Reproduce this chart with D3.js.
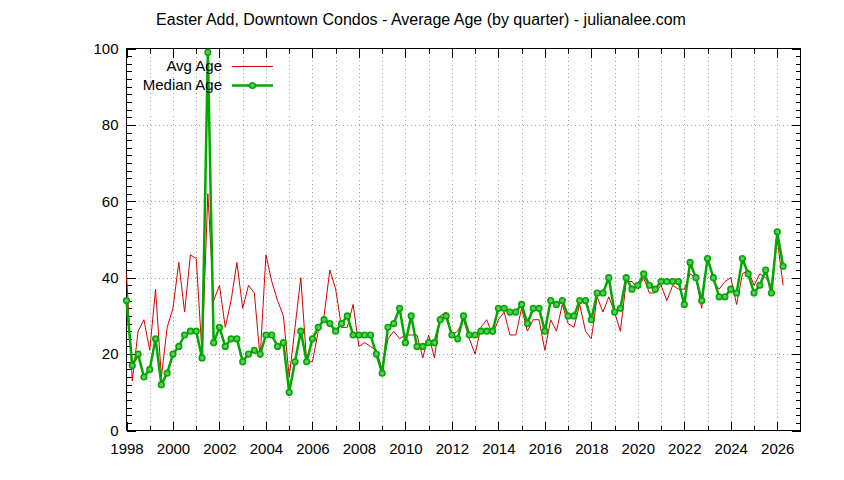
<!DOCTYPE html>
<html>
<head>
<meta charset="utf-8">
<script src="https://cdn.jsdelivr.net/npm/d3@7"></script>
<style>
  html, body { margin: 0; padding: 0; background: #fff; }
  svg { display: block; font-family: "Liberation Sans", Arial, sans-serif; }
</style>
</head>
<body>
<svg id="chart" width="844" height="480"></svg>
<script>
// ---- data (quarterly, starting 1998 Q1) ----
const startYear = 1998;
const avgAge = [41,13,26,29,21,37,14,27,32,44,31,46,45,20,62,34,38,27,34,44,
  32,38,36,19,46,39,34,30,14,27,40,18,18,26,30,42,37,27,27,33,
  22,23,22,21,16,24,26,24,25,25,25,19,25,19,30,31,25,26,29,24,
  20,27,29,25,29,31,25,25,32,26,29,29,21,29,26,33,28,27,33,26,
  24,35,31,35,31,26,39,39,37,40,36,36,38,34,38,37,37,41,40,32,
  46,39,37,39,40,33,41,42,38,41,40,38,50,38];
const medianAge = [34,17,20,14,16,24,12,15,20,22,25,26,26,19,99,23,27,22,24,24,
  18,20,21,20,25,25,22,23,10,18,26,18,24,27,29,28,26,28,30,25,
  25,25,25,20,15,27,28,32,23,30,22,22,23,23,29,30,25,24,30,25,
  25,26,26,26,32,32,31,31,33,28,32,32,26,34,33,34,30,30,34,34,
  29,36,36,40,31,32,40,37,38,41,38,37,39,39,39,39,33,44,40,34,
  45,40,35,35,37,36,45,41,36,38,42,36,52,43];
const xTickLabels = ["1998","2000","2002","2004","2006","2008","2010","2012",
  "2014","2016","2018","2020","2022","2024","2026"];
const yTickValues = [0, 20, 40, 60, 80, 100];
const seriesNames = ["Avg Age", "Median Age"];
const titleText = "Easter Add, Downtown Condos - Average Age (by quarter) - julianalee.com";

// ---- layout ----
const L = 126.5, R = 800.5, T = 48.5, B = 430.5;
const svg = d3.select("#chart");
const quarterX = avgAge.map((_, i) => startYear + i / 4);

const x = d3.scaleLinear().domain([1998, 2027]).range([L, R]);
const y = d3.scaleLinear().domain([0, 100]).range([B, T]);

const allYears = d3.range(1998, 2028);
const labeledYears = xTickLabels.map(Number);
const minorYears = allYears.filter(v => !labeledYears.includes(v) && v > 1998 && v < 2027);
const yMinor = d3.range(0, 101, 2).filter(v => v % 20 !== 0);

// grid
const grid = svg.append("g").attr("stroke", "#a0a0a0").attr("stroke-width", 1)
  .attr("stroke-dasharray", "1,3").attr("shape-rendering", "crispEdges");
grid.selectAll("line.v").data(allYears.filter(v => v > 1998 && v < 2027)).join("line")
  .attr("x1", d => Math.round(x(d)) + 0.5).attr("x2", d => Math.round(x(d)) + 0.5)
  .attr("y1", T).attr("y2", B);
grid.selectAll("line.h").data(yTickValues.filter(v => v > 0 && v < 100)).join("line")
  .attr("x1", L).attr("x2", R)
  .attr("y1", d => Math.round(y(d)) + 0.5).attr("y2", d => Math.round(y(d)) + 0.5);

function styleAxis(g) {
  g.select(".domain").remove();
  g.selectAll(".tick line").attr("stroke", "#000").attr("shape-rendering", "crispEdges");
  g.selectAll(".tick text").attr("fill", "#000").attr("font-size", 15)
    .attr("font-family", "'Liberation Sans', Arial, sans-serif");
}

// bottom
svg.append("g").attr("transform", `translate(0,${B})`)
  .call(d3.axisBottom(x).tickValues(labeledYears).tickFormat((d, i) => xTickLabels[i])
    .tickSize(-9).tickPadding(13))
  .call(styleAxis);
svg.append("g").attr("transform", `translate(0,${B})`)
  .call(d3.axisBottom(x).tickValues(minorYears).tickFormat("").tickSize(-5))
  .call(styleAxis);
// top mirror
svg.append("g").attr("transform", `translate(0,${T})`)
  .call(d3.axisTop(x).tickValues(labeledYears).tickFormat("").tickSize(-9))
  .call(styleAxis);
svg.append("g").attr("transform", `translate(0,${T})`)
  .call(d3.axisTop(x).tickValues(minorYears).tickFormat("").tickSize(-5))
  .call(styleAxis);
// left
svg.append("g").attr("transform", `translate(${L},0)`)
  .call(d3.axisLeft(y).tickValues(yTickValues).tickFormat(d3.format("d"))
    .tickSize(-9).tickPadding(8))
  .call(styleAxis);
svg.append("g").attr("transform", `translate(${L},0)`)
  .call(d3.axisLeft(y).tickValues(yMinor).tickFormat("").tickSize(-5))
  .call(styleAxis);
// right mirror
svg.append("g").attr("transform", `translate(${R},0)`)
  .call(d3.axisRight(y).tickValues(yTickValues).tickFormat("").tickSize(-9))
  .call(styleAxis);
svg.append("g").attr("transform", `translate(${R},0)`)
  .call(d3.axisRight(y).tickValues(yMinor).tickFormat("").tickSize(-5))
  .call(styleAxis);

// border
svg.append("rect").attr("x", L).attr("y", T).attr("width", R - L).attr("height", B - T)
  .attr("fill", "none").attr("stroke", "#000").attr("stroke-width", 1)
  .attr("shape-rendering", "crispEdges");

// lines
const avgColor = "#d80000", medColor = "#00a800";
const line = d3.line().x(d => x(d[0])).y(d => y(d[1]));
svg.append("path").datum(quarterX.map((q, i) => [q, avgAge[i]]))
  .attr("d", line).attr("fill", "none").attr("stroke", avgColor).attr("stroke-width", 1);
const medPts = quarterX.map((q, i) => [q, medianAge[i]]);
svg.append("path").datum(medPts)
  .attr("d", line).attr("fill", "none").attr("stroke", medColor).attr("stroke-width", 2.5)
  .attr("stroke-linejoin", "round");
svg.append("g").selectAll("circle").data(medPts).join("circle")
  .attr("cx", d => x(d[0])).attr("cy", d => y(d[1])).attr("r", 2.8)
  .attr("fill", "#60c860").attr("stroke", medColor).attr("stroke-width", 1.6);

// legend
const legend = svg.append("g").attr("font-size", 15).attr("fill", "#000");
legend.append("text").attr("x", 222).attr("y", 71).attr("text-anchor", "end").text(seriesNames[0]);
legend.append("line").attr("x1", 232).attr("x2", 273).attr("y1", 66.5).attr("y2", 66.5)
  .attr("stroke", avgColor).attr("stroke-width", 1);
legend.append("text").attr("x", 222).attr("y", 90).attr("text-anchor", "end").text(seriesNames[1]);
legend.append("line").attr("x1", 232).attr("x2", 273).attr("y1", 85.5).attr("y2", 85.5)
  .attr("stroke", medColor).attr("stroke-width", 2.5);
legend.append("circle").attr("cx", 252.5).attr("cy", 85.5).attr("r", 2.8)
  .attr("fill", "#60c860").attr("stroke", medColor).attr("stroke-width", 1.6);

// title
svg.append("text").attr("x", 421).attr("y", 25).attr("text-anchor", "middle")
  .attr("font-size", 16).attr("fill", "#000").text(titleText);
</script>
</body>
</html>
